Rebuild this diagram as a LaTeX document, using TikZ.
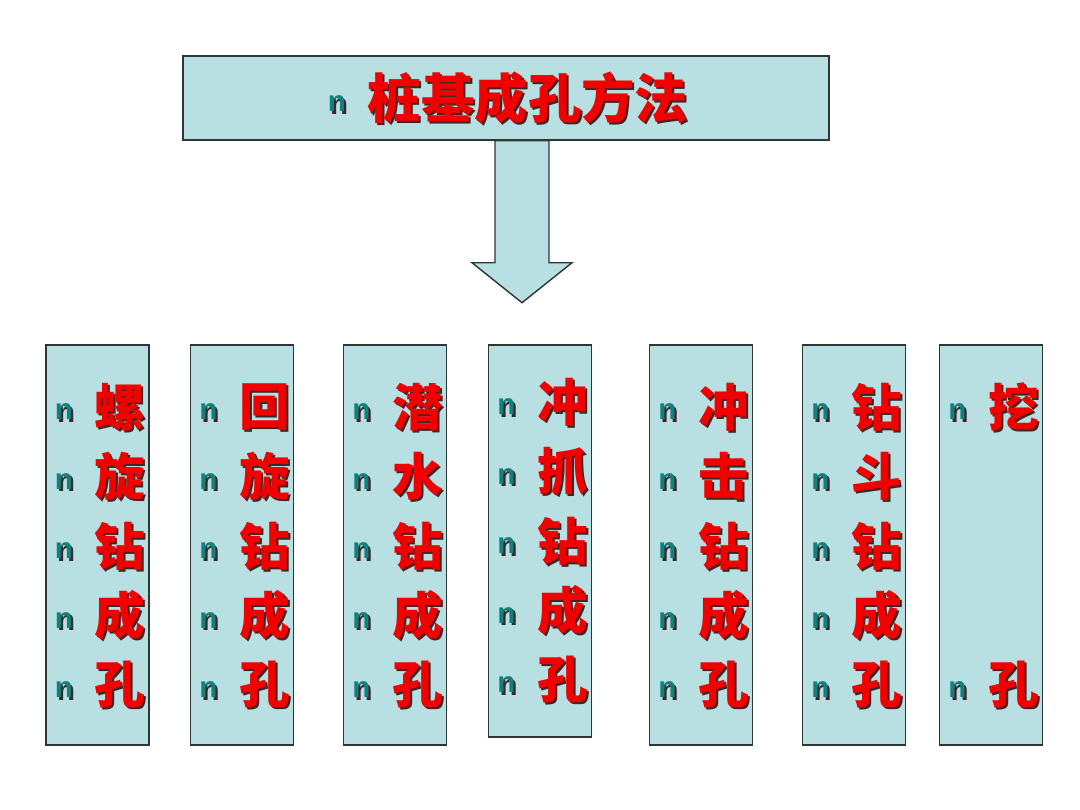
\documentclass[tikz,border=0pt]{standalone}
\usepackage{fontspec}
\setsansfont{Liberation Sans}
\newfontfamily\cjk{Noto Sans CJK SC}
\usetikzlibrary{positioning,calc}
\definecolor{pzfond}{HTML}{B8DFE1}
\definecolor{pzbord}{HTML}{2E3636}
\definecolor{pzrouge}{HTML}{F20000}
\definecolor{pzpuce}{HTML}{138080}
\definecolor{pzombre}{HTML}{402626}
% texte avec ombre portee
\newcommand\ombre[2]{\makebox[0pt][l]{\hspace{1.5pt}\raisebox{-1.5pt}{\color{pzombre}#2}}{\color{#1}#2}}

\begin{document}
\begin{tikzpicture}[x=0.025cm, y=-0.025cm,
  boite/.style={draw=pzbord, fill=pzfond, line width=1pt, inner sep=0pt},
  colonne/.style={boite, minimum width=2.575cm},
  puce/.style={inner sep=0pt, font=\sffamily\bfseries\fontsize{21}{21}\selectfont},
  zi/.style={inner sep=0pt, font=\cjk\bfseries\fontsize{36}{36}\selectfont}]
  \fill[white] (0,0) rectangle (1080,810);
  \useasboundingbox (0,0) rectangle (1080,810);
  % titre
  \node[boite, minimum width=16.15cm, minimum height=2.1cm] (titre) at (506,98) {};
  \node[puce] (titre-n) at (337,105) {\ombre{pzpuce}{n}};
  \node[zi, font=\cjk\bfseries\fontsize{38}{38}\selectfont] (titre-txt) at (528,99) {\ombre{pzrouge}{桩基成孔方法}};
  % fleche
  \coordinate (fl) at ($(titre.south)+(16,0)$);
  \filldraw[draw=pzbord, fill=pzfond, line width=1pt] (fl) ++(-27,0) -- ++(0,122) -- ++(-23,0)
    -- ++(50,40) coordinate (pointe) -- ++(50,-40) -- ++(-23,0) -- ++(0,-122) -- cycle;
  % colonnes
  \foreach \nom/\cx/\cy/\hh/\ry/\mots in {
    c1/97.5/545/10/408/{1/螺,2/旋,3/钻,4/成,5/孔},
    c2/242/545/10/408/{1/回,2/旋,3/钻,4/成,5/孔},
    c3/395/545/10/408/{1/潜,2/水,3/钻,4/成,5/孔},
    c4/540/541/9.8/403/{1/冲,2/抓,3/钻,4/成,5/孔},
    c5/701/545/10/408/{1/冲,2/击,3/钻,4/成,5/孔},
    c6/854/545/10/408/{1/钻,2/斗,3/钻,4/成,5/孔},
    c7/991/545/10/408/{1/挖,5/孔}} {
    \node[colonne, minimum height=\hh cm] (\nom) at (\cx,\cy) {};
    \foreach \r/\z in \mots {
      \node[puce] (\nom-n\r) at (\cx-33.5,\ry+5+69.5*\r-69.5) {\ombre{pzpuce}{n}};
      \node[zi] (\nom-z\r) at (\cx+22.5,\ry+69.5*\r-69.5) {\ombre{pzrouge}{\z}};
    }
  }
\end{tikzpicture}
\end{document}
